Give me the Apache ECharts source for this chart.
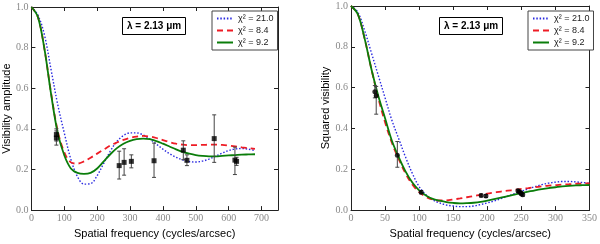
<!DOCTYPE html>
<html><head><meta charset="utf-8">
<script src="https://cdn.jsdelivr.net/npm/echarts@6/dist/echarts.min.js"></script>
<style>html,body{margin:0;padding:0;background:#fff}#c{width:600px;height:244px}</style>
</head><body><div id="c"></div>
<script>
// ---- Left panel: visibility amplitude ----
const leftX = [0,20,40,60,80,100,120,140,160,180,200,220,240,260,280,300,320,340,360,380,400,420,440,460,480,500,520,540,560,580,600,620,640,660,680];
const leftBlue = [1.0,0.96,0.86,0.69,0.52,0.38,0.25,0.165,0.128,0.13,0.17,0.23,0.29,0.338,0.367,0.38,0.38,0.37,0.35,0.325,0.3,0.278,0.26,0.247,0.239,0.237,0.241,0.251,0.265,0.28,0.293,0.301,0.303,0.3,0.293];
const leftRed = [1.0,0.95,0.79,0.575,0.39,0.285,0.235,0.229,0.24,0.258,0.278,0.298,0.318,0.333,0.346,0.356,0.362,0.365,0.362,0.355,0.345,0.335,0.327,0.322,0.32,0.32,0.321,0.322,0.322,0.321,0.318,0.314,0.309,0.305,0.301];
const leftGreen = [1.0,0.95,0.79,0.57,0.38,0.27,0.205,0.183,0.178,0.183,0.205,0.24,0.275,0.305,0.327,0.341,0.349,0.352,0.349,0.34,0.327,0.313,0.299,0.287,0.278,0.271,0.267,0.265,0.265,0.267,0.269,0.271,0.273,0.274,0.275];
const leftPtX = [76,76,267,282,304,373,462,473,556,619,624];
const leftPtY = [0.372,0.355,0.219,0.235,0.240,0.243,0.295,0.245,0.352,0.246,0.240];
const leftLo = [0.34,0.32,0.153,0.172,0.208,0.161,0.248,0.219,0.235,0.175,0.22];
const leftHi = [0.40,0.39,0.29,0.302,0.272,0.33,0.341,0.272,0.469,0.31,0.26];

// ---- Right panel: squared visibility ----
const rightX = [0,10,20,30,40,50,60,70,80,90,100,110,120,130,140,150,160,170,180,190,200,210,220,230,240,250,260,270,280,290,300,310,320,330,340,350];
const rightBlue = [1.0,0.97,0.88,0.77,0.66,0.55,0.44,0.35,0.26,0.18,0.115,0.075,0.05,0.035,0.025,0.02,0.017,0.017,0.02,0.027,0.035,0.045,0.056,0.068,0.08,0.092,0.104,0.115,0.125,0.132,0.137,0.14,0.14,0.138,0.135,0.132];
const rightRed = [1.0,0.96,0.84,0.69,0.55,0.43,0.33,0.25,0.18,0.125,0.088,0.065,0.052,0.047,0.048,0.052,0.057,0.063,0.069,0.075,0.081,0.086,0.091,0.095,0.099,0.104,0.108,0.112,0.116,0.12,0.122,0.125,0.127,0.129,0.13,0.131];
const rightGreen = [1.0,0.96,0.84,0.69,0.56,0.45,0.34,0.26,0.19,0.135,0.097,0.072,0.055,0.046,0.039,0.035,0.033,0.034,0.036,0.04,0.047,0.054,0.061,0.068,0.076,0.083,0.09,0.097,0.103,0.108,0.112,0.116,0.119,0.121,0.122,0.123];
const rightPtX = [35,37,68,103,191,198,245,247,249,250,252];
const rightPtY = [0.58,0.56,0.269,0.088,0.072,0.069,0.095,0.09,0.085,0.08,0.075];
const rightLo = [0.55,0.47,0.21,0.08,0.065,0.062,0.088,0.083,0.078,0.073,0.068];
const rightHi = [0.61,0.606,0.336,0.096,0.079,0.076,0.102,0.097,0.092,0.087,0.082];

const names = ['\u03C7\u00B2 = 21.0', '\u03C7\u00B2 = 8.4', '\u03C7\u00B2 = 9.2'];
const annot = '\u03BB = 2.13 \u03BCm';
const xLabel = 'Spatial frequency (cycles/arcsec)';
const leftYLabel = 'Visibility amplitude';
const rightYLabel = 'Squared visibility';

const zip = (a, b) => a.map((v, i) => [v, b[i]]);
const zip3 = (a, b, c) => a.map((v, i) => [v, b[i], c[i]]);

const tickLbl = {fontFamily: 'Liberation Serif', fontSize: 10, color: '#888', margin: 3};
const nameStyle = {fontFamily: 'Liberation Sans', fontSize: 11, color: '#000'};
const lineCol = {color: '#222', width: 1};

function xAxes(grid, max, interval) {
  return [
    {gridIndex: grid, type: 'value', min: 0, max: max, interval: interval, position: 'bottom',
     axisLine: {show: true, onZero: false, lineStyle: lineCol},
     axisTick: {show: true, inside: true, length: 4, lineStyle: lineCol},
     axisLabel: Object.assign({formatter: v => (v % interval === 0) ? String(v) : ''}, tickLbl),
     splitLine: {show: false},
     name: xLabel, nameLocation: 'middle', nameGap: 15, nameTextStyle: nameStyle},
    {gridIndex: grid, type: 'value', min: 0, max: max, interval: interval, position: 'top',
     axisLine: {show: true, onZero: false, lineStyle: lineCol},
     axisTick: {show: true, inside: true, length: 4, lineStyle: lineCol},
     axisLabel: {show: false}, splitLine: {show: false}}
  ];
}
function yAxes(grid, name, gap) {
  return [
    {gridIndex: grid, type: 'value', min: 0, max: 1, interval: 0.2, position: 'left',
     axisLine: {show: true, onZero: false, lineStyle: lineCol},
     axisTick: {show: true, inside: true, length: 4, lineStyle: lineCol},
     axisLabel: Object.assign({formatter: v => v.toFixed(1)}, tickLbl),
     splitLine: {show: false},
     name: name, nameLocation: 'middle', nameGap: gap, nameTextStyle: nameStyle},
    {gridIndex: grid, type: 'value', min: 0, max: 1, interval: 0.2, position: 'right',
     axisLine: {show: true, onZero: false, lineStyle: lineCol},
     axisTick: {show: true, inside: true, length: 4, lineStyle: lineCol},
     axisLabel: {show: false}, splitLine: {show: false}}
  ];
}

function curves(xi, yi, xs, b, r, g) {
  const base = {type: 'line', xAxisIndex: xi, yAxisIndex: yi, symbol: 'none', smooth: 0.35, z: 3};
  return [
    Object.assign({}, base, {name: names[0], data: zip(xs, b), lineStyle: {color: '#2a2ae0', width: 1.4, type: [1.5, 1.8]}, itemStyle: {color: '#2a2ae0'}}),
    Object.assign({}, base, {name: names[1], data: zip(xs, r), lineStyle: {color: '#ee1c25', width: 1.8, type: [6, 4]}, itemStyle: {color: '#ee1c25'}}),
    Object.assign({}, base, {name: names[2], data: zip(xs, g), lineStyle: {color: '#0a7d0a', width: 1.8}, itemStyle: {color: '#0a7d0a'}})
  ];
}
function errBars(xi, yi, xs, lo, hi) {
  return {
    type: 'custom', xAxisIndex: xi, yAxisIndex: yi, z: 4, silent: true,
    data: zip3(xs, lo, hi), encode: {x: 0, y: [1, 2]},
    renderItem: (params, api) => {
      const p1 = api.coord([api.value(0), api.value(1)]);
      const p2 = api.coord([api.value(0), api.value(2)]);
      const st = {stroke: '#444', lineWidth: 1};
      return {type: 'group', children: [
        {type: 'line', shape: {x1: p1[0], y1: p1[1], x2: p2[0], y2: p2[1]}, style: st},
        {type: 'line', shape: {x1: p1[0] - 2, y1: p1[1], x2: p1[0] + 2, y2: p1[1]}, style: st},
        {type: 'line', shape: {x1: p2[0] - 2, y1: p2[1], x2: p2[0] + 2, y2: p2[1]}, style: st}
      ]};
    }
  };
}

const legendBase = {orient: 'vertical', data: names, borderColor: '#444', borderWidth: 1, backgroundColor: '#fff',
  padding: [3, 4, 3, 4], itemGap: 3, itemWidth: 16, itemHeight: 8, borderRadius: 0,
  itemStyle: {color: 'rgba(0,0,0,0)', borderWidth: 0},
  textStyle: {fontFamily: 'Liberation Sans', fontSize: 9, color: '#222'}};
const titleBase = {borderColor: '#000', borderWidth: 1, padding: [4, 5], backgroundColor: '#fff',
  textStyle: {fontFamily: 'Liberation Sans', fontSize: 10, fontWeight: 'bold', color: '#000'}};

const x0 = xAxes(0, 750, 100), x1 = xAxes(1, 350, 50);
const option = {
  animation: false,
  backgroundColor: '#fff',
  title: [Object.assign({text: annot, left: 122, top: 17}, titleBase), Object.assign({text: annot, left: 439, top: 17}, titleBase)],
  legend: [Object.assign({left: 212, top: 11}, legendBase), Object.assign({left: 528, top: 11}, legendBase)],
  grid: [{left: 31, top: 7, width: 247, height: 211}, {left: 351, top: 6, width: 241, height: 212}],
  xAxis: [x0[0], x0[1], x1[0], x1[1]],
  yAxis: [].concat(yAxes(0, leftYLabel, 19), yAxes(1, rightYLabel, 17)),
  series: [].concat(
    curves(0, 0, leftX, leftBlue, leftRed, leftGreen),
    [errBars(0, 0, leftPtX, leftLo, leftHi),
     {type: 'scatter', xAxisIndex: 0, yAxisIndex: 0, symbol: 'rect', symbolSize: 5, z: 5, itemStyle: {color: '#000'}, data: zip(leftPtX, leftPtY)}],
    curves(2, 2, rightX, rightBlue, rightRed, rightGreen),
    [errBars(2, 2, rightPtX, rightLo, rightHi),
     {type: 'scatter', xAxisIndex: 2, yAxisIndex: 2, symbol: 'circle', symbolSize: 5, z: 5, itemStyle: {color: '#000'}, data: zip(rightPtX, rightPtY)}]
  )
};
echarts.init(document.getElementById('c'), null, {renderer: 'canvas'}).setOption(option);
</script>
</body></html>
